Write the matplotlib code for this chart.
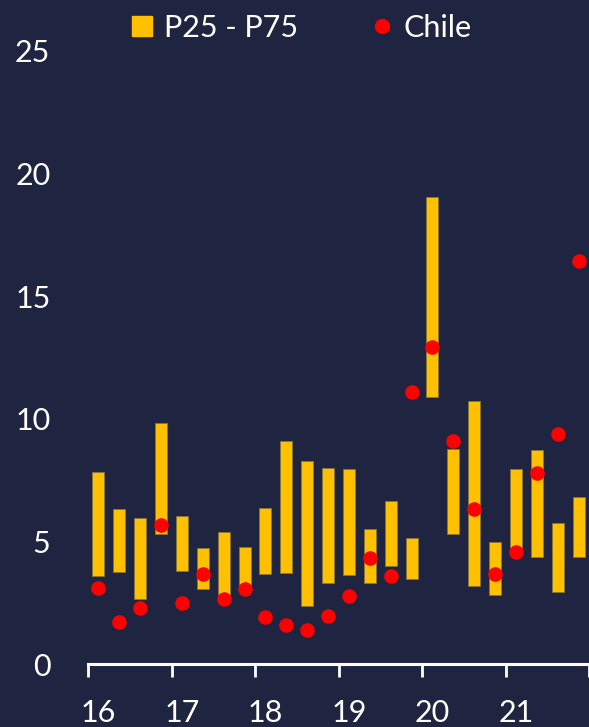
import numpy as np
import matplotlib.pyplot as plt
from matplotlib.lines import Line2D

# quarterly data, 2016Q1 .. 2021Q4
p25 = [3.59, 3.74, 2.66, 5.30, 3.81, 3.06, 2.72, 3.15, 3.68, 3.70, 2.35, 3.32,
       3.65, 3.32, 3.98, 3.46, 10.90, 5.31, 3.19, 2.83, 4.70, 4.37, 2.95, 4.37]
p75 = [7.84, 6.33, 5.95, 9.82, 6.04, 4.72, 5.37, 4.78, 6.36, 9.08, 8.26, 8.00,
       7.97, 5.52, 6.63, 5.14, 19.06, 8.75, 10.72, 4.96, 7.94, 8.71, 5.74, 6.80]
chile = [3.11, 1.70, 2.30, 5.67, 2.49, 3.66, 2.65, 3.05, 1.90, 1.59, 1.38, 1.95,
         2.76, 4.33, 3.57, 11.09, 12.91, 9.09, 6.33, 3.69, 4.56, 7.79, 9.38, 16.42]
years = ['16', '17', '18', '19', '20', '21']

bg = '#1f2440'
gold = '#ffc000'
fg = 'white'
fs = 22

plt.rcParams['font.family'] = ['Lato', 'DejaVu Sans']

fig = plt.figure(figsize=(5.89, 7.27), dpi=100)
fig.patch.set_facecolor(bg)
ax = fig.add_axes([88/589, 1-664/727, 1-88/589, (664-51)/727])
ax.set_facecolor(bg)

x = np.arange(len(p25))
lo = np.array(p25)
hi = np.array(p75)
ax.bar(x, hi - lo, bottom=lo, width=0.58, color=gold, edgecolor='#8a7535', linewidth=0.6, zorder=2)
ax.plot(x, chile, 'o', color='red', markersize=10.5, markeredgewidth=0, zorder=3, clip_on=False)

ax.set_xlim(-0.5, 23.27)
ax.set_ylim(0, 25)

for s in ['top', 'right', 'left']:
    ax.spines[s].set_visible(False)
ax.spines['bottom'].set_color(fg)
ax.spines['bottom'].set_linewidth(2.2)

ax.set_yticks([0, 5, 10, 15, 20, 25])
ax.tick_params(axis='y', length=0, pad=27, labelsize=fs, labelcolor=fg)

ax.set_xticks(np.arange(-0.5, 24, 4))
ax.set_xticklabels([])
ax.tick_params(axis='x', which='major', length=9, width=2, color=fg, direction='out')
ax.set_xticks(np.arange(0, 24, 4), minor=True)
ax.set_xticklabels(years, minor=True)
ax.tick_params(axis='x', which='minor', length=0, pad=25, labelsize=fs, labelcolor=fg)

handles = [Line2D([], [], marker='s', color=gold, linestyle='none', markersize=14),
           Line2D([], [], marker='o', color='red', linestyle='none', markersize=10)]
leg = fig.legend(handles, ['P25 - P75', 'Chile'], loc='center left', bbox_to_anchor=(133/589, 1-28/727),
                 ncol=2, frameon=False, fontsize=fs, handlelength=0.6, handletextpad=0.4,
                 columnspacing=2.45, borderpad=0, borderaxespad=0, labelcolor=fg)

plt.savefig('out.png', dpi=100, facecolor=bg)
